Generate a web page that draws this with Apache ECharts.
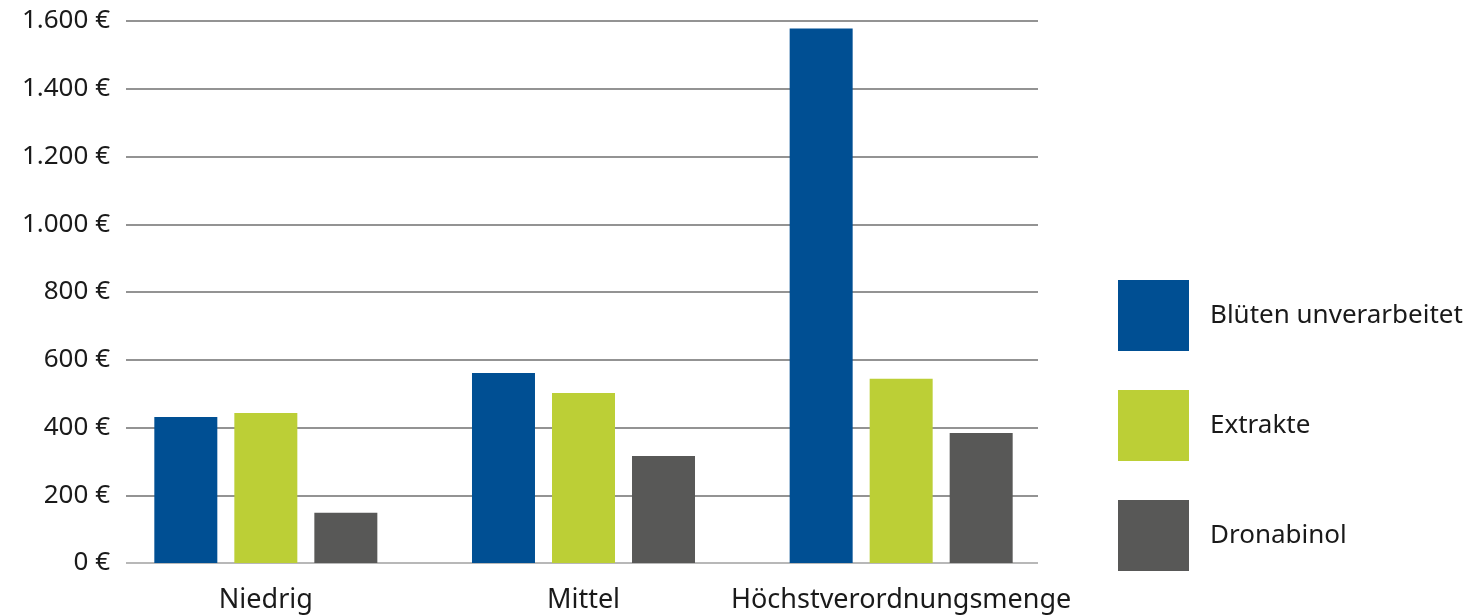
<!DOCTYPE html>
<html>
<head>
<meta charset="utf-8">
<script src="https://cdn.jsdelivr.net/npm/echarts@6/dist/echarts.min.js"></script>
<style>
  html, body { margin: 0; padding: 0; background: #fff; }
  #chart { width: 1483px; height: 616px; }
</style>
</head>
<body>
<div id="chart"></div>
<script>
const categories = ['Niedrig', 'Mittel', 'Höchstverordnungsmenge']
const seriesNames = ['Blüten unverarbeitet', 'Extrakte', 'Dronabinol']
const bluetenValues = [431, 561, 1578]
const extrakteValues = [443, 502, 544]
const dronabinolValues = [148, 316, 384]
const yTicks = [0, 200, 400, 600, 800, 1000, 1200, 1400, 1600]

const colors = ['#004f93', '#bccf36', '#585857']
const font = 'Noto Sans'

const formatEuro = (v) => String(v).replace(/\B(?=(\d{3})+(?!\d))/g, '.') + ' €'

const chart = echarts.init(document.getElementById('chart'))

const makeBar = (name, data, i) => ({
  name: name,
  type: 'bar',
  xAxisIndex: 1,
  yAxisIndex: 1,
  data: data,
  barWidth: 63,
  barGap: '27%',
  itemStyle: { color: colors[i] },
  silent: true
})

const option = {
  animation: false,
  color: colors,
  textStyle: { fontFamily: font },
  grid: [
    // gridlines + y labels
    { left: 126, right: 445, top: 21, bottom: 53 },
    // bars, slightly wider bands
    { left: 107, width: 953, top: 21, bottom: 53 }
  ],
  legend: {
    orient: 'vertical',
    left: 1118,
    top: 280,
    padding: 0,
    itemWidth: 71,
    itemHeight: 71,
    itemGap: 39,
    icon: 'rect',
    selectedMode: false,
    data: seriesNames,
    textStyle: {
      fontFamily: font,
      fontSize: 26,
      color: '#1a1a1a',
      padding: [5, 0, 0, 16]
    }
  },
  xAxis: [
    { gridIndex: 0, type: 'value', show: false, min: 0, max: 1 },
    {
      gridIndex: 1,
      type: 'category',
      data: categories,
      axisLine: { show: false },
      axisTick: { show: false },
      axisLabel: {
        interval: 0,
        fontFamily: font,
        fontSize: 27,
        color: '#1a1a1a',
        margin: 24
      }
    }
  ],
  yAxis: [
    {
      gridIndex: 0,
      type: 'value',
      min: yTicks[0],
      max: yTicks[yTicks.length - 1],
      interval: 200,
      axisLine: { show: false },
      axisTick: { show: false },
      axisLabel: {
        fontFamily: font,
        fontSize: 26,
        color: '#1a1a1a',
        margin: 16,
        formatter: formatEuro
      },
      splitLine: {
        lineStyle: {
          color: ['#a0a0a0', '#6f6f6f', '#6f6f6f', '#6f6f6f', '#6f6f6f', '#6f6f6f', '#6f6f6f', '#6f6f6f', '#6f6f6f'],
          width: 1.5
        }
      }
    },
    {
      gridIndex: 1,
      type: 'value',
      min: yTicks[0],
      max: yTicks[yTicks.length - 1],
      show: false,
      splitLine: { show: false }
    }
  ],
  series: [
    makeBar(seriesNames[0], bluetenValues, 0),
    makeBar(seriesNames[1], extrakteValues, 1),
    makeBar(seriesNames[2], dronabinolValues, 2)
  ]
}

chart.setOption(option)
</script>
</body>
</html>
